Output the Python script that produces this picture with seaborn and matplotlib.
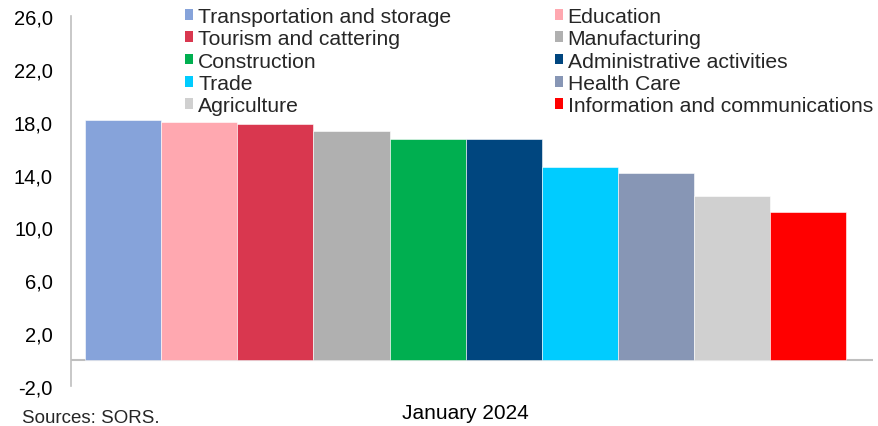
import matplotlib
matplotlib.use("Agg")
import matplotlib.pyplot as plt
from matplotlib.patches import Patch
from matplotlib.ticker import FuncFormatter
import seaborn as sns
import pandas as pd

sectors = [
    "Transportation and storage", "Education", "Tourism and cattering",
    "Manufacturing", "Construction", "Administrative activities",
    "Trade", "Health Care", "Agriculture", "Information and communications",
]
values = [18.1, 18.0, 17.8, 17.3, 16.7, 16.7, 14.6, 14.1, 12.4, 11.2]
colors = ["#86A3DA", "#FFA8B0", "#D9374F", "#B0B0B0", "#00AF50",
          "#00467F", "#00CCFF", "#8796B5", "#D0D0D0", "#FF0000"]
period = ["January 2024"]
yticks = [-2, 2, 6, 10, 14, 18, 22, 26]

df = pd.DataFrame({"period": period * len(sectors), "sector": sectors, "value": values})

sns.set_theme(style="white")
plt.rcParams["font.family"] = ["Liberation Sans", "DejaVu Sans"]

fig = plt.figure(figsize=(8.79, 4.27), dpi=100)
ax = fig.add_axes([71 / 879, 1 - 387 / 427, (873 - 71) / 879, (387 - 17) / 427])

sns.barplot(data=df, x="period", y="value", hue="sector", hue_order=sectors,
            palette=dict(zip(sectors, colors)), width=0.8, saturation=1,
            edgecolor="white", linewidth=0.4, legend=False, ax=ax)

ax.set_ylim(-2, 26)
ax.set_xlim(-0.4147, 0.428)
ax.set_yticks(yticks)
ax.yaxis.set_major_formatter(FuncFormatter(lambda v, p: f"{v:.1f}".replace(".", ",")))
ax.tick_params(axis="y", length=0, pad=13, labelsize=14.5, colors="black")
ax.tick_params(axis="x", length=0, pad=12, labelsize=15, colors="black")
ax.set_xlabel("")
ax.set_ylabel("")

for side in ["top", "right", "bottom"]:
    ax.spines[side].set_visible(False)
ax.spines["left"].set_color("#BFBFBF")
ax.spines["left"].set_linewidth(1.2)
ax.axhline(0, color="#BFBFBF", linewidth=1.5, zorder=0.5)

# legend: two columns, filled row by row
col1 = sectors[0::2]
col2 = sectors[1::2]
order = col1 + col2
cmap = dict(zip(sectors, colors))
handles = [Patch(facecolor=cmap[s], edgecolor="none") for s in order]
fig.legend(handles, order, ncol=2, loc="upper left",
           bbox_to_anchor=(185 / 879, 1 - 8 / 427), frameon=False,
           fontsize=15.2, handlelength=0.4, handleheight=0.4,
           handletextpad=0.22, columnspacing=4.9, labelspacing=0.155,
           borderpad=0, borderaxespad=0)

fig.text(22 / 879, 1 - 419 / 427, "Sources: SORS.", fontsize=13.5,
         ha="left", va="center")

fig.savefig("out.png", dpi=100)
